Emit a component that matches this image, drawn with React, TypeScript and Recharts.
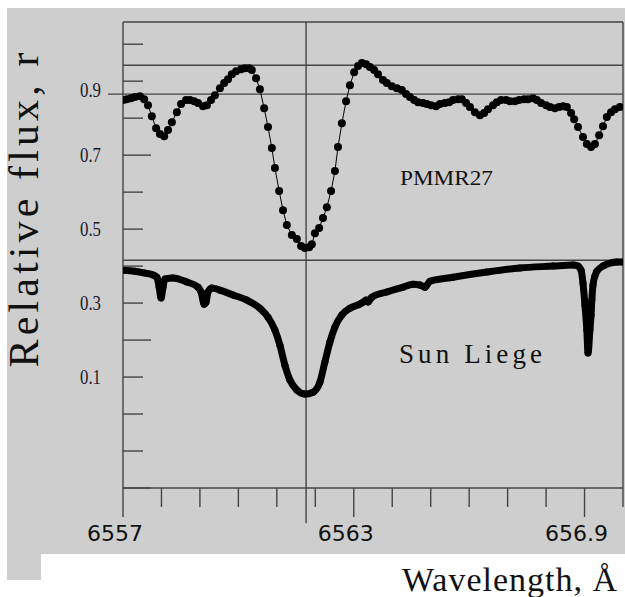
import { LineChart, Line, XAxis, YAxis, ReferenceLine } from "recharts";

// PMMR27 profile (wavelength in Å, relative flux)
const pmmrWl = [
  6557.0, 6557.1, 6557.21, 6557.31, 6557.44, 6557.55, 6557.65, 6557.75, 6557.86, 6557.96,
  6558.07, 6558.17, 6558.27, 6558.4, 6558.51, 6558.64, 6558.74, 6558.85, 6558.95, 6559.08,
  6559.18, 6559.29, 6559.39, 6559.52, 6559.63, 6559.73, 6559.83, 6559.94, 6560.07, 6560.17,
  6560.28, 6560.35, 6560.46, 6560.56, 6560.67, 6560.77, 6560.87, 6560.95, 6561.06, 6561.16,
  6561.26, 6561.39, 6561.52, 6561.63, 6561.73, 6561.84, 6561.91, 6561.99, 6562.1, 6562.2,
  6562.3, 6562.41, 6562.51, 6562.59, 6562.69, 6562.8, 6562.9, 6563.01, 6563.11, 6563.21,
  6563.32, 6563.42, 6563.53, 6563.63, 6563.76, 6563.86, 6563.99, 6564.12, 6564.25, 6564.36,
  6564.46, 6564.57, 6564.67, 6564.8, 6564.9, 6565.01, 6565.14, 6565.24, 6565.37, 6565.48,
  6565.58, 6565.71, 6565.81, 6565.92, 6566.02, 6566.15, 6566.28, 6566.39, 6566.49, 6566.62,
  6566.72, 6566.83, 6566.96, 6567.06, 6567.19, 6567.3, 6567.43, 6567.53, 6567.66, 6567.76,
  6567.87, 6568.0, 6568.1, 6568.23, 6568.34, 6568.44, 6568.54, 6568.65, 6568.73, 6568.83,
  6568.96, 6569.06, 6569.17, 6569.27, 6569.38, 6569.48, 6569.58, 6569.69, 6569.79, 6569.92,
];
const pmmrFlux = [
  0.849, 0.851, 0.854, 0.857, 0.859, 0.851, 0.835, 0.805, 0.773, 0.757,
  0.751, 0.768, 0.789, 0.816, 0.838, 0.849, 0.849, 0.846, 0.841, 0.832,
  0.835, 0.849, 0.862, 0.881, 0.895, 0.905, 0.919, 0.927, 0.932, 0.935,
  0.935, 0.93, 0.908, 0.878, 0.827, 0.776, 0.719, 0.665, 0.603, 0.551,
  0.511, 0.484, 0.473, 0.454, 0.449, 0.451, 0.459, 0.489, 0.503, 0.53,
  0.559, 0.603, 0.657, 0.722, 0.786, 0.846, 0.889, 0.924, 0.941, 0.949,
  0.946, 0.938, 0.93, 0.919, 0.903, 0.895, 0.886, 0.881, 0.876, 0.865,
  0.857, 0.849, 0.843, 0.841, 0.838, 0.835, 0.832, 0.838, 0.841, 0.843,
  0.849, 0.851, 0.851, 0.841, 0.83, 0.816, 0.808, 0.814, 0.824, 0.835,
  0.843, 0.849, 0.849, 0.846, 0.846, 0.849, 0.851, 0.851, 0.854, 0.849,
  0.841, 0.835, 0.83, 0.827, 0.83, 0.832, 0.83, 0.814, 0.797, 0.776,
  0.749, 0.73, 0.722, 0.73, 0.754, 0.778, 0.803, 0.816, 0.824, 0.83,
];

// Sun Liege atlas profile
const sunWl = [
  6557.0, 6557.31, 6557.57, 6557.78, 6557.88, 6557.94, 6557.99, 6558.04, 6558.09, 6558.3,
  6558.66, 6558.95, 6559.03, 6559.11, 6559.16, 6559.21, 6559.31, 6559.52, 6559.86, 6560.22,
  6560.56, 6560.77, 6560.95, 6561.08, 6561.21, 6561.34, 6561.52, 6561.73, 6561.94, 6562.12,
  6562.25, 6562.38, 6562.51, 6562.69, 6562.9, 6563.11, 6563.21, 6563.32, 6563.37, 6563.47,
  6563.86, 6564.28, 6564.54, 6564.72, 6564.85, 6564.98, 6565.58, 6566.46, 6567.32, 6568.18,
  6568.7, 6568.83, 6568.91, 6568.96, 6569.01, 6569.06, 6569.09, 6569.14, 6569.17, 6569.19,
  6569.22, 6569.27, 6569.32, 6569.48, 6569.84, 6569.97,
];
const sunFlux = [
  0.389, 0.386, 0.381, 0.376, 0.37, 0.343, 0.314, 0.343, 0.365, 0.368,
  0.357, 0.343, 0.33, 0.297, 0.303, 0.33, 0.341, 0.335, 0.322, 0.308,
  0.286, 0.262, 0.227, 0.186, 0.132, 0.092, 0.065, 0.054, 0.059, 0.086,
  0.141, 0.195, 0.235, 0.268, 0.286, 0.295, 0.3, 0.308, 0.303, 0.316,
  0.33, 0.343, 0.351, 0.349, 0.343, 0.359, 0.37, 0.384, 0.395, 0.4,
  0.403, 0.4, 0.389, 0.354, 0.295, 0.227, 0.165, 0.227, 0.268, 0.308,
  0.349, 0.373, 0.386, 0.4, 0.411, 0.411,
];

const xTicks = [6557, 6558, 6559, 6560, 6561, 6562, 6563, 6564, 6565, 6566, 6567, 6568, 6569, 6570];
const xLabels: Record<number, string> = { 6557: "6557", 6563: "6563", 6569: "656.9" };
const yTicks = [1.0, 0.9, 0.8, 0.7, 0.6, 0.5, 0.4, 0.3, 0.2, 0.1, 0.0, -0.1, -0.2];
const yLabels: Record<string, string> = { "0.9": "0.9", "0.7": "0.7", "0.5": "0.5", "0.3": "0.3", "0.1": "0.1" };

const pmmrData = pmmrWl.map((wl, i) => ({ wl, flux: pmmrFlux[i] }));
const sunData = sunWl.map((wl, i) => ({ wl, flux: sunFlux[i] }));

const GRAY = "#cecece";
const LINE = "#444";

const XTick = ({ x, y, payload }: any) => {
  const lbl = xLabels[payload.value];
  return (
    <g>
      <line x1={x} x2={x} y1={y} y2={y + (lbl ? 29 : 19)} stroke={LINE} strokeWidth={1.4} />
      {lbl && (
        <text x={x - 8} y={y + 53} textAnchor="middle" fontFamily="DejaVu Sans" fontSize={22} fill="#111">
          {lbl}
        </text>
      )}
    </g>
  );
};

const YTick = ({ x, y, payload }: any) => {
  const v = Math.round(payload.value * 10) / 10;
  const key = v.toFixed(1);
  const long = key === "0.7" || key === "0.2" || key === "-0.2";
  const lbl = yLabels[key];
  return (
    <g>
      <line x1={x} x2={x + (long ? 28 : 20)} y1={y} y2={y} stroke={LINE} strokeWidth={1.4} />
      {lbl && (
        <text
          x={x - 43}
          y={y + 7 + (key === "0.9" ? 9 : 0)}
          fontFamily="Liberation Serif"
          fontSize={21}
          textLength={21}
          lengthAdjust="spacingAndGlyphs"
          fill="#1a1a2a"
        >
          {lbl}
        </text>
      )}
    </g>
  );
};

export default function App() {
  return (
    <div style={{ position: "fixed", left: 0, top: 0, width: 625, height: 597, background: "#fff", overflow: "hidden" }}>
      <div style={{ position: "absolute", left: 7, top: 8, width: 618, height: 546, background: GRAY }} />
      <div style={{ position: "absolute", left: 7, top: 554, width: 34, height: 26, background: GRAY }} />
      <div style={{ position: "absolute", left: 0, top: 0 }}>
        <LineChart width={625} height={560} margin={{ top: 22, right: 2, left: 0, bottom: 0 }}>
          <XAxis
            dataKey="wl"
            type="number"
            domain={[6557, 6570]}
            ticks={xTicks}
            interval={0}
            allowDataOverflow
            height={72}
            tickSize={0}
            tickMargin={0}
            tickLine={false}
            axisLine={{ stroke: LINE, strokeWidth: 1.4 }}
            tick={<XTick />}
          />
          <YAxis
            type="number"
            domain={[-0.2, 1.06]}
            ticks={yTicks}
            interval={0}
            allowDataOverflow
            width={123}
            tickSize={0}
            tickMargin={0}
            tickLine={false}
            axisLine={{ stroke: LINE, strokeWidth: 1.4 }}
            tick={<YTick />}
          />
          <ReferenceLine y={1.06} stroke={LINE} strokeWidth={1.4} />
          <ReferenceLine y={0.943} stroke={LINE} strokeWidth={1.4} />
          <ReferenceLine
            segment={[{ x: 6556.61, y: 0.865 }, { x: 6570, y: 0.865 }]}
            ifOverflow="visible"
            stroke={LINE}
            strokeWidth={1.4}
          />
          <ReferenceLine y={0.416} stroke={LINE} strokeWidth={1.4} />
          <ReferenceLine x={6570} stroke={LINE} strokeWidth={1.4} />
          <ReferenceLine
            segment={[{ x: 6561.76, y: 1.06 }, { x: 6561.76, y: -0.295 }]}
            ifOverflow="visible"
            stroke={LINE}
            strokeWidth={1.4}
          />
          <Line
            data={sunData}
            dataKey="flux"
            type="monotone"
            stroke="#000"
            strokeWidth={7}
            strokeLinejoin="round"
            dot={{ r: 3.5, fill: "#000", stroke: "none" }}
            activeDot={false}
            isAnimationActive={false}
          />
          <Line
            data={pmmrData}
            dataKey="flux"
            type="linear"
            stroke="#000"
            strokeWidth={1}
            dot={{ r: 4, fill: "#000", stroke: "none" }}
            activeDot={false}
            isAnimationActive={false}
          />
        </LineChart>
      </div>
      <svg width={625} height={597} style={{ position: "absolute", left: 0, top: 0, pointerEvents: "none" }}>
        <text
          transform="translate(38,210) rotate(-90)"
          textAnchor="middle"
          fontFamily="Liberation Serif"
          fontSize={42}
          textLength={315}
          lengthAdjust="spacing"
          fill="#111"
        >
          Relative flux, r
        </text>
        <text x={400} y={185} fontFamily="Liberation Serif" fontSize={22} textLength={93} lengthAdjust="spacingAndGlyphs" fill="#111">
          PMMR27
        </text>
        <text x={399} y={363} fontFamily="Liberation Serif" fontSize={27} textLength={143} lengthAdjust="spacing" fill="#111">
          Sun Liege
        </text>
        <text x={402} y={591} fontFamily="Liberation Serif" fontSize={34} textLength={215} lengthAdjust="spacing" fill="#111">
          Wavelength, Å
        </text>
      </svg>
    </div>
  );
}
